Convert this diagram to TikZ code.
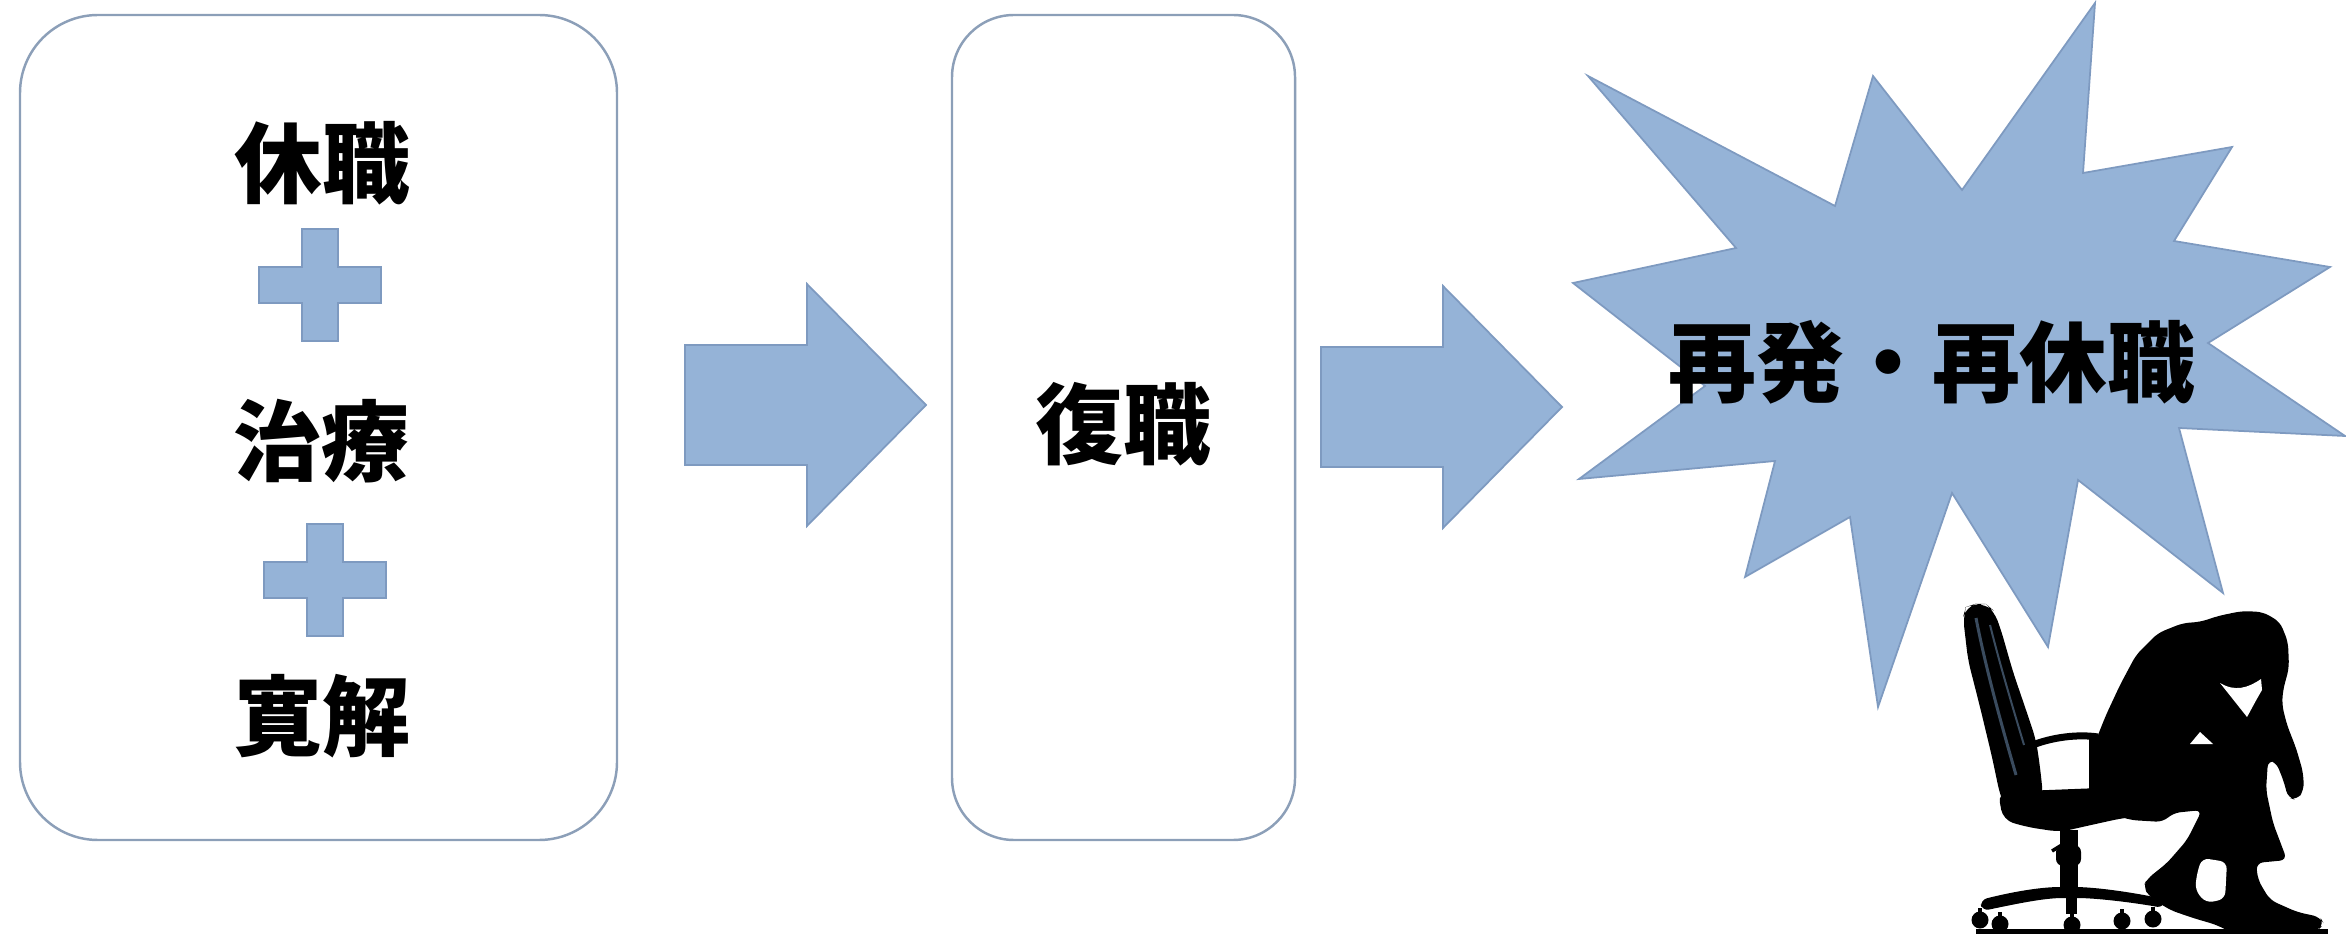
\documentclass[tikz,border=0pt]{standalone}
\usepackage{fontspec}
\newfontfamily\jp{Noto Sans CJK JP}
\definecolor{bleu}{HTML}{95B3D7}
\definecolor{trait}{HTML}{7E9AC0}
\definecolor{cadre}{HTML}{8C9FB8}
\definecolor{reflet}{HTML}{3A4B5E}
\tikzset{
	bloc/.style={fill=bleu, draw=trait, line width=0.5pt},
	boite/.style={draw=cadre, line width=0.7pt},
	mot/.style={font=\jp\bfseries\fontsize{25}{30}\selectfont, inner sep=0pt}
}
\newcommand{\croix}[2]{\filldraw[bloc] (#1-61,#2-18) --++ (43,0) --++ (0,-38) --++ (36,0) --++ (0,38)
	--++ (43,0) --++ (0,36) --++ (-43,0) --++ (0,38) --++ (-36,0) --++ (0,-38) --++ (-43,0) -- cycle}
\newcommand{\fleche}[4]{\filldraw[bloc] (#1,#4-60) -- (#2,#4-60) -- (#2,#4-121) -- (#3,#4)
	-- (#2,#4+121) -- (#2,#4+60) -- (#1,#4+60) -- cycle}
\newcommand{\roue}[2]{\fill (#1,#2) circle[radius=0.085cm];
	\draw[line width=0.04cm] (#1,#2) --++ (0,-12)}

\begin{document}
\begin{tikzpicture}[x=0.01cm, y=-0.01cm]
	\useasboundingbox (0,0) rectangle (2346,934);
	\draw[boite, rounded corners=0.78cm] (20,15) rectangle (617,840);
	\draw[boite, rounded corners=0.62cm] (952,15) rectangle (1295,840);
	\node[mot] (kyushoku) at (322,163) {休職};
	\croix{320}{285};
	\node[mot] (chiryo) at (321,441) {治療};
	\croix{325}{580};
	\node[mot] (kankai) at (322,716) {寛解};
	\fleche{685}{807}{926}{405};
	\node[mot] (fukushoku) at (1123,424) {復職};
	\fleche{1321}{1443}{1562}{407};
	% explosion
	\filldraw[bloc] (2095,3) -- (2083,173) -- (2232,147) -- (2174,241) -- (2330,267) -- (2208,343)
		-- (2345,436) -- (2179,428) -- (2223,593) -- (2078,480) -- (2048,647) -- (1952,493)
		-- (1878,707) -- (1850,517) -- (1745,577) -- (1775,461) -- (1579,479) -- (1705,386)
		-- (1573,283) -- (1736,248) -- (1588,76) -- (1835,206) -- (1873,76) -- (1962,190) -- cycle;
	\node[mot] (saihatsu) at (1932,362) {再発・再休職};
	% chaise
	\fill[rounded corners=3pt] (1963,617) -- (1966,607) -- (1975,604) -- (1986,604) -- (1994,611)
		-- (2001,630) -- (2013,672) -- (2027,713) -- (2036,740) -- (2040,767) -- (2043,795)
		-- (2040,812) -- (2020,817) -- (2007,812) -- (2000,795) -- (1992,757) -- (1980,707)
		-- (1968,660) -- cycle;
	\draw[reflet, line width=0.03cm] (1976,618) .. controls (1985,665) and (2000,720) .. (2016,775);
	\draw[reflet, line width=0.02cm] (1990,625) .. controls (2000,665) and (2012,705) .. (2024,745);
	\fill[rounded corners=3pt] (1998,792) -- (2100,788) -- (2172,805) -- (2170,813) -- (2123,818)
		-- (2100,823) -- (2060,832) -- (2027,827) -- (2003,820) -- cycle;
	\draw[line width=0.07cm] (2030,746) .. controls (2052,737) and (2078,734) .. (2098,737);
	\draw[line width=0.09cm] (2093,737) -- (2093,795);
	\fill (2060,830) rectangle (2078,892);
	\fill[rounded corners=2pt] (2056,845) rectangle (2081,866);
	\draw[line width=0.035cm] (2065,843) -- (2052,851);
	\fill[rounded corners=2pt] (1980,900) .. controls (2020,890) and (2045,887) .. (2067,887)
		.. controls (2095,887) and (2130,892) .. (2164,899) -- (2164,908)
		.. controls (2130,902) and (2095,898) .. (2070,898) .. controls (2045,898) and (2020,903) .. (1982,911) -- cycle;
	\fill (2066,896) rectangle (2077,914);
	\roue{1980}{920};
	\roue{2000}{924};
	\roue{2072}{925};
	\roue{2122}{921};
	\roue{2153}{919};
	\fill (1976,929) rectangle (2328,934);
	% homme
	\fill[rounded corners=2pt] (2088,805) -- (2090,770) -- (2096,740) -- (2106,715) -- (2120,685)
		-- (2136,655) -- (2158,633) -- (2183,623) -- (2200,622) -- (2218,616) -- (2242,611)
		-- (2263,612) -- (2280,622) -- (2288,642) -- (2289,668) -- (2283,690) -- (2282,705)
		-- (2287,725) -- (2296,748) -- (2303,772) -- (2304,790) -- (2297,800) -- (2288,798)
		-- (2284,782) -- (2276,762) -- (2268,760) -- (2266,790) -- (2273,823) -- (2287,860)
		-- (2256,863) -- (2258,880) -- (2270,900) -- (2297,912) -- (2320,917) -- (2324,924)
		-- (2317,931) -- (2230,932) -- (2217,925) -- (2193,918) -- (2170,910) -- (2150,897)
		-- (2143,887) -- (2147,879) -- (2167,863) -- (2187,840) -- (2202,810) -- (2173,813)
		-- (2163,822) -- (2130,820) -- cycle;
	\fill[white, rounded corners=2pt] (2202,858) -- (2227,862) -- (2225,899) -- (2206,903)
		-- (2195,890) -- (2197,873) -- cycle;
	\fill[white] (2220,683) .. controls (2235,692) and (2248,688) .. (2261,679) -- (2262,690)
		.. controls (2256,700) and (2252,708) .. (2247,717) -- cycle;
	\fill[white] (2190,744) -- (2200,732) -- (2213,744) -- cycle;
\end{tikzpicture}
\end{document}
